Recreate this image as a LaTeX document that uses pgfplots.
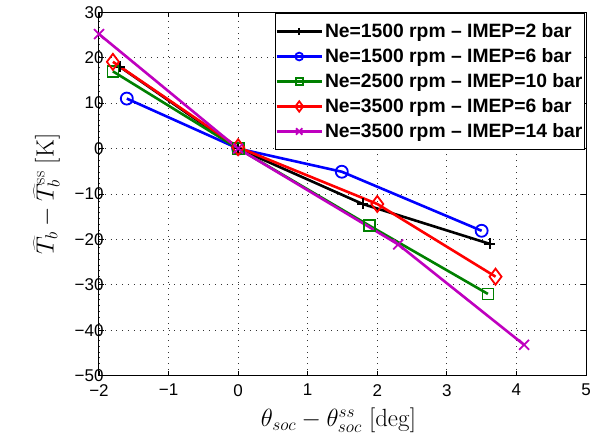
\documentclass[border=0pt]{standalone}
\usepackage[no-math]{fontspec}
\setmainfont{Liberation Sans}
\usepackage{pgfplots}
\pgfplotsset{compat=1.18}
\definecolor{mgreen}{rgb}{0,0.5,0}
\definecolor{mmag}{rgb}{0.75,0,0.75}
\begin{document}
\begin{tikzpicture}
\begin{axis}[
 scale only axis, width=487pt, height=363.4pt,
 xmin=-2, xmax=5, ymin=-50, ymax=30,
 xtick={-2,-1,0,1,2,3,4,5}, ytick={-50,-40,-30,-20,-10,0,10,20,30},
 xticklabels={−2,−1,0,1,2,3,4,5},
 yticklabels={−50,−40,−30,−20,−10,0,10,20,30},
 tick align=inside, major tick length=5pt,
 tick style={black, line width=0.8pt},
 axis line style={line width=1pt},
 grid=major, major grid style={black!80, line width=0.8pt, dash pattern=on 0.8pt off 5pt},
 ticklabel style={font=\fontsize{17}{20}\selectfont},
 xticklabel style={yshift=-5pt},
 yticklabel style={xshift=8pt},
 xlabel={\fontsize{26}{30}\selectfont$\theta_{soc}-\theta_{soc}^{ss}\ [\mathrm{deg}]$},
 ylabel={\fontsize{26}{30}\selectfont$\widehat{T}_b-\widehat{T}_b^{\mathrm{ss}}\ [\mathrm{K}]$},
 xlabel style={yshift=-5pt, xshift=-4pt},
 ylabel style={yshift=8pt},
 clip=false,
 every axis plot/.append style={line width=2.6pt},
 legend cell align=left,
 legend style={at={(1,1)}, anchor=north east, xshift=-1pt, yshift=-1pt,
   draw=black, line width=1pt, fill=white, row sep=5.5pt, inner ysep=8pt, inner xsep=0pt,
   font=\bfseries\fontsize{19.3}{22}\selectfont},
 legend image code/.code={\draw[mark repeat=2,mark phase=2,#1,every mark/.append style={scale=0.65}] plot coordinates {(0pt,0pt) (22.5pt,0pt) (45pt,0pt)};},
]
\addplot[black, mark=+, mark size=5.5pt, mark options={solid, line width=1.8pt}] coordinates {(-1.70,18.0) (0,0) (1.79,-12.2) (3.62,-21.0)};
\addlegendentry{Ne=1500 rpm – IMEP=2 bar}
\addplot[blue, mark=o, mark size=6pt, mark options={solid, line width=1.8pt}] coordinates {(-1.60,11.0) (0,0) (1.49,-5.1) (3.50,-18.1)};
\addlegendentry{Ne=1500 rpm – IMEP=6 bar}
\addplot[mgreen, mark=square, mark size=5.5pt, mark options={solid, line width=1.8pt}] coordinates {(-1.80,17.0) (0,0) (1.89,-17.0) (3.59,-32.0)};
\addlegendentry{Ne=2500 rpm – IMEP=10 bar}
\addplot[red, mark=diamond, mark size=8pt, mark options={solid, line width=1.8pt}] coordinates {(-1.80,19.1) (0,0.3) (2.0,-12.2) (3.70,-28.2)};
\addlegendentry{Ne=3500 rpm – IMEP=6 bar}
\addplot[mmag, mark=x, mark size=7pt, mark options={solid, line width=1.8pt}] coordinates {(-2.0,25.2) (0,0) (2.30,-21.1) (4.11,-43.2)};
\addlegendentry{Ne=3500 rpm – IMEP=14 bar}
\end{axis}
\pgfresetboundingbox
\path ([shift={(-99pt,-65.3pt)}]current axis.south west) rectangle ([shift={(8pt,12.3pt)}]current axis.north east);
\end{tikzpicture}
\end{document}
